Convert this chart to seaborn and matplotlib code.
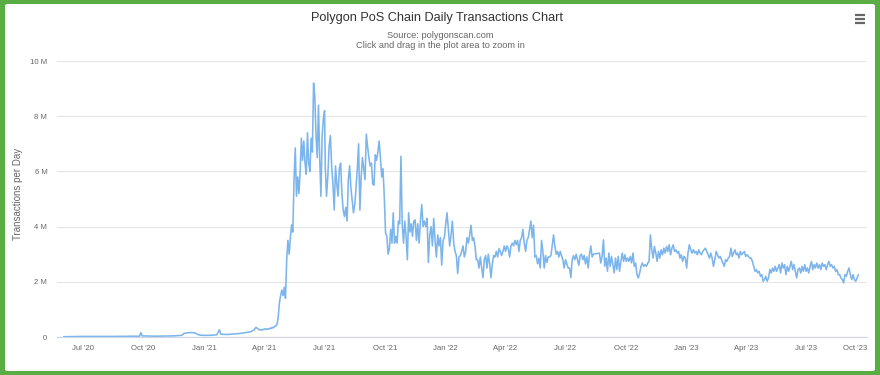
import pandas as pd
import seaborn as sns
import matplotlib.pyplot as plt
from matplotlib.patches import FancyBboxPatch
from matplotlib.lines import Line2D
from matplotlib.ticker import FuncFormatter

# Daily transactions in millions
early_dates = ['2020-06-02', '2020-07-01', '2020-08-15', '2020-09-25', '2020-09-27', '2020-09-29',
               '2020-10-20', '2020-11-15', '2020-11-28', '2020-12-01', '2020-12-06', '2020-12-12',
               '2020-12-18', '2020-12-22', '2020-12-28', '2021-01-10', '2021-01-20', '2021-01-22',
               '2021-01-24', '2021-01-26', '2021-02-05', '2021-02-15', '2021-02-25', '2021-03-05',
               '2021-03-12', '2021-03-17', '2021-03-20', '2021-03-23']
early_vals = [0.01, 0.02, 0.02, 0.03, 0.16, 0.04,
              0.03, 0.04, 0.06, 0.13, 0.15, 0.16,
              0.15, 0.09, 0.06, 0.06, 0.08, 0.18,
              0.26, 0.10, 0.09, 0.11, 0.13, 0.16,
              0.19, 0.25, 0.35, 0.30]

# 2021-03-26 .. 2021-07-02
rise_vals = [0.25, 0.27, 0.25, 0.28, 0.30, 0.27, 0.30, 0.28, 0.32, 0.30, 0.35, 0.33, 0.38,
             0.40, 0.45, 0.69, 1.23, 1.5, 1.7, 1.5, 1.8, 1.4, 2.8, 3.5, 3.0, 3.6, 4.06, 3.8,
             5.7, 6.85, 5.1, 5.8, 5.2, 6.0, 7.2, 6.4, 7.1, 6.3, 5.9, 7.4, 6.3, 6.0, 7.2, 6.7,
             9.2, 8.7, 7.3, 6.5, 8.4, 6.5, 5.1, 7.3, 7.9, 8.2]

# 2021-07-03 .. 2021-11-14
summer_vals = [6.2, 5.1, 5.8, 6.9, 7.3, 6.2, 5.55, 4.6, 6.2, 5.55, 5.1, 6.1, 6.3, 5.2, 4.6,
               4.36, 4.7, 4.2, 5.7, 6.2, 5.4, 4.96, 4.5, 4.8, 5.4, 6.1, 7.0, 4.6, 5.8, 6.5,
               6.1, 5.7, 7.35, 6.9, 6.5, 6.2, 6.3, 5.55, 5.5, 6.6, 6.4, 6.7, 7.1, 6.5, 5.8,
               6.1, 5.1, 3.77, 3.65, 3.0, 3.2, 3.9, 3.4, 4.5, 3.4, 3.65, 3.4, 4.2, 4.1, 6.55,
               4.1, 3.4, 4.2, 3.65, 2.8, 4.5, 3.8, 4.1, 3.65, 4.2]

# 2021-11-16 .. 2022-08-13
y2022_vals = [4.24, 3.5, 4.1, 3.4, 4.2, 4.8, 4.0, 4.2, 4.0, 4.3, 2.7, 3.7, 4.0, 3.3, 4.3, 3.5,
              2.9, 3.7, 3.3, 3.6, 2.6, 3.5, 3.6, 4.1, 4.5, 3.9, 3.3, 3.7, 4.2, 3.4, 3.1, 2.95,
              2.3, 2.9, 2.95, 3.1, 3.3, 2.9, 3.1, 3.6, 3.4, 3.7, 4.05, 3.5, 3.6, 3.3, 2.8, 2.8,
              2.5, 2.9, 2.5, 2.15, 2.8, 2.95, 2.5, 3.0, 2.65, 2.15, 2.65, 2.95, 2.9, 3.1, 2.9,
              3.2, 3.1, 2.95, 3.1, 3.3, 3.1, 3.3, 3.2, 2.9, 3.3, 3.4, 3.3, 3.5, 3.35, 3.5, 3.1,
              3.5, 3.6, 3.9, 3.4, 3.1, 3.5, 3.6, 3.9, 4.2, 3.6, 4.05, 2.9, 2.95, 2.65, 2.85,
              2.5, 3.5, 3.1, 2.5, 2.95, 2.7, 2.9, 2.9, 2.95, 3.3, 3.7, 3.3, 3.0, 3.1, 2.9, 3.1,
              2.95, 2.8, 2.5, 2.8, 2.65, 2.5, 2.5, 2.15, 2.8, 2.95, 2.8, 3.0, 2.8, 2.6, 2.95,
              3.0, 2.8, 2.95, 2.65, 2.9, 2.5, 3.0, 3.3, 2.9, 3.0]

# 2022-08-22 .. 2023-09-18
y2023_vals = [3.04, 2.68, 2.92, 3.52, 2.56, 2.86, 2.38, 3.04, 2.56, 2.92, 2.62, 2.32, 2.86, 2.44,
              2.92, 2.38, 2.74, 3.04, 2.74, 2.98, 2.74, 2.86, 2.74, 2.92, 2.68, 3.04, 2.56, 2.68,
              2.26, 2.14, 2.32, 2.56, 2.68, 2.56, 2.62, 2.56, 2.68, 2.74, 3.70, 3.16, 2.86, 3.28,
              3.04, 2.74, 3.10, 2.86, 3.16, 2.98, 3.22, 3.04, 3.28, 3.10, 3.34, 2.98, 3.22, 3.34,
              3.10, 3.16, 3.04, 3.10, 2.86, 2.98, 2.74, 2.92, 2.86, 2.50, 3.04, 3.34, 3.16, 3.04,
              3.16, 3.04, 3.10, 2.98, 3.16, 3.04, 2.98, 3.10, 3.16, 3.22, 3.10, 2.98, 2.86, 3.04,
              2.86, 2.56, 2.80, 3.10, 2.98, 2.86, 2.92, 2.80, 2.68, 2.56, 2.80, 2.74, 2.86, 2.92,
              3.22, 2.92, 3.04, 3.16, 2.98, 3.04, 2.86, 3.10, 2.98, 3.04, 3.10, 2.92, 2.98, 2.92,
              2.86, 2.86, 2.74, 2.56, 2.38, 2.44, 2.32, 2.38, 2.20, 2.26, 2.02, 2.08, 2.20, 2.02,
              2.14, 2.44, 2.32, 2.50, 2.38, 2.56, 2.38, 2.50, 2.62, 2.32, 2.68, 2.50, 2.62, 2.26,
              2.56, 2.38, 2.56, 2.74, 2.44, 2.62, 2.38, 2.14, 2.44, 2.50, 2.32, 2.56, 2.38, 2.62,
              2.38, 2.50, 2.32, 2.56, 2.74, 2.44, 2.62, 2.50, 2.68, 2.50, 2.62, 2.44, 2.68, 2.56,
              2.62, 2.44, 2.62, 2.74, 2.56, 2.62, 2.50, 2.56, 2.38, 2.44, 2.26, 2.26, 2.14, 2.08,
              1.96, 2.26, 2.20, 2.38, 2.50, 2.26, 2.08, 2.26, 2.08, 2.02, 2.14, 2.26]

tick_dates = pd.date_range('2020-07-01', '2023-10-01', freq='QS')
tick_labels = [d.strftime("%b '%y") for d in tick_dates]


def spread(start, end, vals):
    return pd.DataFrame({'date': pd.date_range(start, end, periods=len(vals)), 'tx': vals})


df = pd.concat([
    pd.DataFrame({'date': pd.to_datetime(early_dates), 'tx': early_vals}),
    spread('2021-03-26', '2021-07-02', rise_vals),
    spread('2021-07-03', '2021-11-14', summer_vals),
    spread('2021-11-16', '2022-08-13', y2022_vals),
    spread('2022-08-22', '2023-09-18', y2023_vals),
], ignore_index=True)
df['tx'] = df['tx'] * 1e6

sns.set_style('white')
plt.rcParams['font.family'] = ['Liberation Sans', 'DejaVu Sans']

fig = plt.figure(figsize=(8.8, 3.75), dpi=100)
fig.patch.set_facecolor('#5aad43')
card = FancyBboxPatch((5 / 880, 4 / 375), 870 / 880, 367 / 375,
                      boxstyle='round,pad=0,rounding_size=0.004',
                      transform=fig.transFigure, facecolor='white', edgecolor='none', zorder=-10)
fig.add_artist(card)

ax = fig.add_axes([57 / 880, 38 / 375, 810 / 880, 276 / 375])
ax.set_facecolor('none')
ax.set_zorder(1)

sns.lineplot(data=df, x='date', y='tx', ax=ax, color='#7cb5ec', linewidth=1.15, estimator=None)

ax.set_xlim(pd.Timestamp('2020-05-23'), pd.Timestamp('2023-10-01'))
ax.set_ylim(0, 10e6)
ax.set_yticks([0, 2e6, 4e6, 6e6, 8e6, 10e6])
ax.yaxis.set_major_formatter(FuncFormatter(lambda v, p: '0' if v == 0 else f'{v / 1e6:.0f} M'))
ax.set_xticks(tick_dates)
ax.set_xticklabels(tick_labels)
# last label is pulled inside the chart, as in the original
ax.get_xticklabels()[-1].set_horizontalalignment('right')

ax.grid(axis='y', color='#e6e6e6', linewidth=0.8)
ax.grid(axis='x', visible=False)
for s in ['top', 'right', 'left']:
    ax.spines[s].set_visible(False)
ax.spines['bottom'].set_color('#ccd6eb')
ax.spines['bottom'].set_linewidth(0.8)
ax.tick_params(axis='x', colors='#ccd6eb', length=4, width=0.8, pad=2, labelsize=5.6, labelcolor='#666666')
ax.tick_params(axis='y', length=0, pad=7, labelsize=5.6, labelcolor='#666666')
ax.set_xlabel('')
ax.set_ylabel('')

fig.text(18 / 880, 1 - 194 / 375, 'Transactions per Day', rotation=90, ha='center', va='center',
         fontsize=7, color='#666666')
fig.text(0.497, 1 - 18 / 375, 'Polygon PoS Chain Daily Transactions Chart', ha='center', va='center',
         fontsize=9.2, color='#333333')
fig.text(0.5, 1 - 35 / 375, 'Source: polygonscan.com', ha='center', va='center',
         fontsize=6.7, color='#666666')
fig.text(0.5, 1 - 46 / 375, 'Click and drag in the plot area to zoom in', ha='center', va='center',
         fontsize=6.7, color='#666666')

# menu icon
for yy in (15, 19, 23):
    fig.add_artist(Line2D([855 / 880, 865 / 880], [1 - yy / 375] * 2, transform=fig.transFigure,
                          color='#666666', linewidth=1.6, solid_capstyle='butt'))

fig.savefig('out.png', dpi=100, facecolor=fig.get_facecolor())
